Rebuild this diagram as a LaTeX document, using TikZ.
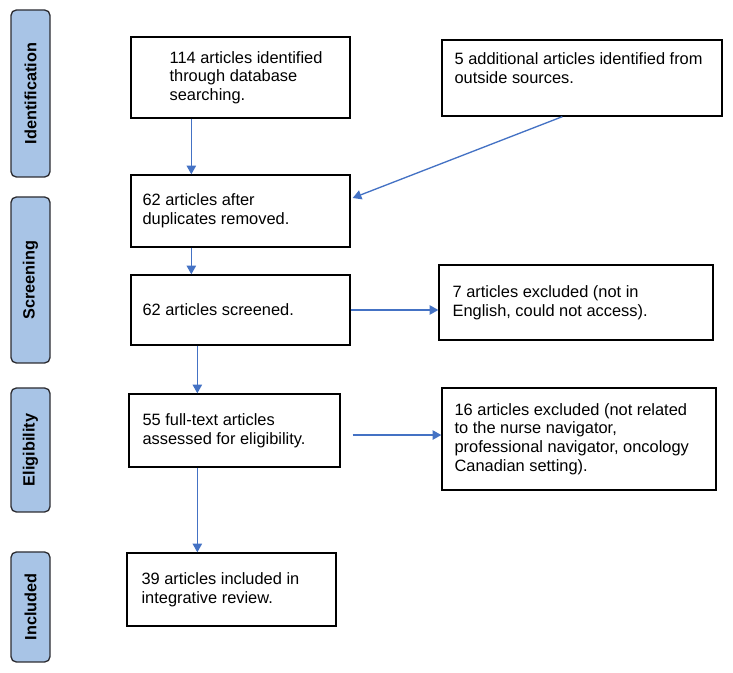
\documentclass[tikz,border=0pt]{standalone}
\usepackage{fontspec}
\setmainfont{Liberation Sans}
\usetikzlibrary{arrows.meta,calc}
\definecolor{phasefill}{RGB}{168,196,230}
\definecolor{phaseline}{RGB}{45,45,50}
\definecolor{arrowblue}{RGB}{68,114,196}
\begin{document}
\begin{tikzpicture}[x=0.75pt,y=-0.75pt,
  box/.style={draw=black,line width=1pt,fill=white,inner sep=0pt},
  phase/.style={draw=phaseline,line width=1pt,fill=phasefill,rounded corners=4pt,rotate=90,
    minimum height=29.25pt,inner sep=0pt,font=\fontsize{12.2}{14}\selectfont\bfseries},
  txt/.style={anchor=west,align=left,inner sep=0pt,font=\fontsize{12.3}{14}\selectfont},
  arr/.style={draw=arrowblue,line width=1pt,-{Triangle[length=6.5pt,width=7pt]}}]
\useasboundingbox (0,0) rectangle (733,673);

% phase labels
\node[phase,minimum width=125.25pt] (pid) at (30.5,93.5) {Identification};
\node[phase,minimum width=124.5pt] (pscr) at (30.5,280) {Screening};
\node[phase,minimum width=93pt] (peli) at (30.5,450) {Eligibility};
\node[phase,minimum width=82.5pt] (pinc) at (30.5,607) {Included};

% boxes
\node[box,minimum width=164.25pt,minimum height=60.75pt] (b1) at (240.5,77.5) {};
\node[box,minimum width=210pt,minimum height=57pt] (b6) at (582,78) {};
\node[box,minimum width=164.25pt,minimum height=54pt] (b2) at (240.5,211) {};
\node[box,minimum width=164.25pt,minimum height=52.5pt] (b3) at (240.5,310) {};
\node[box,minimum width=205.5pt,minimum height=56.25pt] (b7) at (576,302.5) {};
\node[box,minimum width=158.25pt,minimum height=54.75pt] (b4) at (234.5,430.5) {};
\node[box,minimum width=205.5pt,minimum height=76.5pt] (b8) at (579,439) {};
\node[box,minimum width=156.75pt,minimum height=54.75pt] (b5) at (231.5,589.5) {};

% texts
\node[txt] (t1) at ([xshift=29.25pt]b1.west) {114 articles identified\\through database\\searching.};
\node[txt] (t6) at ([xshift=9.75pt,yshift=7.5pt]b6.west) {5 additional articles identified from\\outside sources.};
\node[txt] (t2) at ([xshift=9pt]b2.west) {62 articles after\\duplicates removed.};
\node[txt] (t3) at ([xshift=9pt]b3.west) {62 articles screened.};
\node[txt] (t7) at ([xshift=10.5pt]b7.west) {7 articles excluded (not in\\English, could not access).};
\node[txt] (t4) at ([xshift=10.5pt]b4.west) {55 full-text articles\\assessed for eligibility.};
\node[txt] (t8) at ([xshift=9.75pt]b8.west) {16 articles excluded (not related\\to the nurse navigator,\\professional navigator, oncology\\Canadian setting).};
\node[txt] (t5) at ([xshift=11.25pt]b5.west) {39 articles included in\\integrative review.};

% connectors
\draw[arr] ([xshift=45.75pt]b1.south west) -- ([xshift=45.75pt]b2.north west);
\draw[arr] ([xshift=90.75pt]b6.south west) -- ([xshift=1.5pt,yshift=9.75pt]b2.east);
\draw[arr] ([xshift=45.75pt]b2.south west) -- ([xshift=45.75pt]b3.north west);
\draw[arr] (b3.east) -- (b3.east -| b7.west);
\draw[arr] ([xshift=50.25pt]b3.south west) -- ([xshift=51.75pt]b4.north west);
\draw[arr] ([xshift=9pt,yshift=-3.4pt]b4.east) -- ([yshift=-3.4pt]b4.east -| b8.west);
\draw[arr] ([xshift=51.75pt]b4.south west) -- ([xshift=53.25pt]b5.north west);
\end{tikzpicture}
\end{document}
